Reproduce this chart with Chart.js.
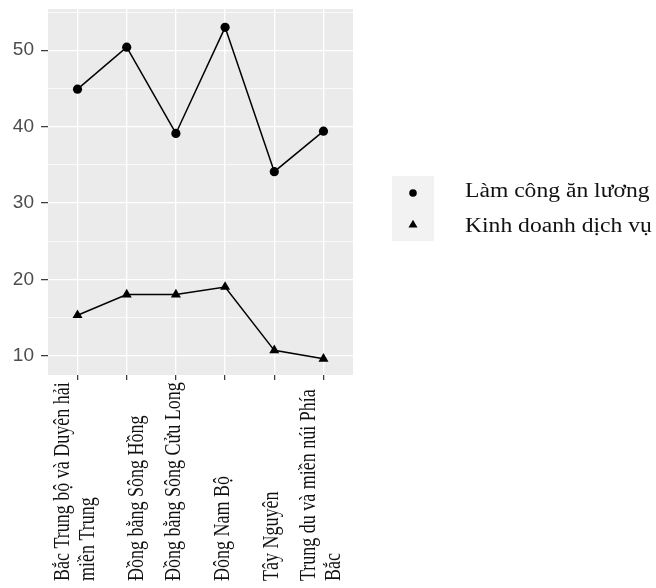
<!DOCTYPE html>
<html>
<head>
<meta charset="utf-8">
<script src="https://cdn.jsdelivr.net/npm/chart.js@4"></script>
<style>
  html, body { margin: 0; padding: 0; background: #fff; }
</style>
</head>
<body>
<canvas id="myChart" width="656" height="588"></canvas>
<script>
// Data
const regions = [
  "Bắc Trung bộ và Duyên hải\nmiền Trung",
  "\nĐồng bằng Sông Hồng",
  "Đồng bằng Sông Cửu Long",
  "Đông Nam Bộ",
  "Tây Nguyên",
  "Trung du và miền núi Phía\nBắc",
];
const wageValues = [44.9, 50.4, 39.1, 53.0, 34.1, 39.4];
const serviceValues = [15.3, 18.0, 18.0, 19.0, 10.7, 9.6];
const seriesNames = ["Làm công ăn lương", "Kinh doanh dịch vụ"];
const yMajorTicks = [10, 20, 30, 40, 50];
const yMinorTicks = [15, 25, 35, 45, 55];

// grey ggplot-like panel behind the grid
const panelPlugin = {
  id: "panel",
  beforeDraw(chart) {
    const { ctx, chartArea } = chart;
    ctx.save();
    ctx.fillStyle = "#EBEBEB";
    ctx.fillRect(chartArea.left, chartArea.top, chartArea.right - chartArea.left, chartArea.bottom - chartArea.top);
    ctx.restore();
  },
};

// rotated category labels, starting from the bottom of the page
const xLabelPlugin = {
  id: "xLabels",
  afterDraw(chart) {
    const ctx = chart.ctx;
    const xScale = chart.scales.x;
    ctx.save();
    ctx.fillStyle = "#111";
    ctx.font = "18px 'Liberation Serif', 'Times New Roman', serif";
    ctx.textAlign = "left";
    ctx.textBaseline = "alphabetic";
    regions.forEach((label, i) => {
      const lines = label.split("\n");
      const px = xScale.getPixelForValue(i);
      lines.forEach((line, j) => {
        const bx = px + (j - (lines.length - 1) / 2) * 25 + 4;
        ctx.save();
        ctx.translate(bx, 581);
        ctx.scale(1.25, 1);
        ctx.rotate(-Math.PI / 2);
        ctx.fillText(line, 0, 0);
        ctx.restore();
      });
    });
    ctx.restore();
  },
};

// legend on the right, ggplot style
const legendPlugin = {
  id: "sideLegend",
  afterDraw(chart) {
    const ctx = chart.ctx;
    ctx.save();
    ctx.fillStyle = "#F2F2F2";
    ctx.fillRect(392, 176, 42, 65);
    const keys = [
      { y: 193, style: "circle", radius: 3.8 },
      { y: 225, style: "triangle", radius: 5.2 },
    ];
    const baselines = [197, 232];
    keys.forEach((k, i) => {
      ctx.fillStyle = "#000";
      ctx.strokeStyle = "#000";
      Chart.helpers.drawPoint(ctx, { pointStyle: k.style, radius: k.radius, rotation: 0, borderWidth: 0 }, 413, k.y);
      ctx.save();
      ctx.fillStyle = "#111";
      ctx.font = "20px 'Liberation Serif', 'Times New Roman', serif";
      ctx.textBaseline = "alphabetic";
      ctx.translate(465, baselines[i]);
      ctx.scale(1.18, 1);
      ctx.fillText(seriesNames[i], 0, 0);
      ctx.restore();
    });
    ctx.restore();
  },
};

new Chart(document.getElementById("myChart"), {
  type: "line",
  data: {
    datasets: [
      {
        label: seriesNames[0],
        data: wageValues.map((v, i) => ({ x: i, y: v })),
        borderColor: "#000",
        backgroundColor: "#000",
        borderWidth: 1.5,
        pointStyle: "circle",
        pointRadius: 4.6,
        pointBorderWidth: 0,
        tension: 0,
      },
      {
        label: seriesNames[1],
        data: serviceValues.map((v, i) => ({ x: i, y: v })),
        borderColor: "#000",
        backgroundColor: "#000",
        borderWidth: 1.5,
        pointStyle: "triangle",
        pointRadius: 5.8,
        pointBorderWidth: 0,
        tension: 0,
      },
    ],
  },
  options: {
    responsive: false,
    animation: false,
    layout: { padding: { top: 9, right: 303, left: 0, bottom: 0 } },
    plugins: {
      legend: { display: false },
      tooltip: { enabled: false },
    },
    scales: {
      x: {
        type: "linear",
        min: -0.6,
        max: 5.6,
        afterBuildTicks: (scale) => {
          scale.ticks = regions.map((r, i) => ({ value: i }));
        },
        afterFit: (scale) => {
          scale.height = 213;
          scale.paddingLeft = 0;
          scale.paddingRight = 0;
        },
        ticks: { display: false },
        grid: {
          color: "#fff",
          lineWidth: 1.3,
          tickColor: "#333",
          tickLength: 5,
          tickWidth: 1.2,
        },
        border: { display: false },
      },
      y: {
        min: 7.47,
        max: 55.4,
        afterBuildTicks: (scale) => {
          scale.ticks = [...yMajorTicks, ...yMinorTicks].sort((a, b) => a - b).map((v) => ({ value: v }));
        },
        afterFit: (scale) => {
          scale.width = 48;
          scale.paddingTop = 0;
          scale.paddingBottom = 0;
        },
        ticks: {
          autoSkip: false,
          padding: 7,
          color: "#4D4D4D",
          font: { family: "'Liberation Sans', Arial, sans-serif", size: 19 },
          callback: (v) => (yMajorTicks.includes(v) ? String(v) : ""),
        },
        grid: {
          color: "#fff",
          lineWidth: (c) => (yMajorTicks.includes(c.tick.value) ? 1.3 : 0.7),
          tickColor: (c) => (yMajorTicks.includes(c.tick.value) ? "#333" : "rgba(0,0,0,0)"),
          tickLength: 7,
          tickWidth: 1.2,
        },
        border: { display: false },
      },
    },
  },
  plugins: [panelPlugin, xLabelPlugin, legendPlugin],
});
</script>
</body>
</html>
